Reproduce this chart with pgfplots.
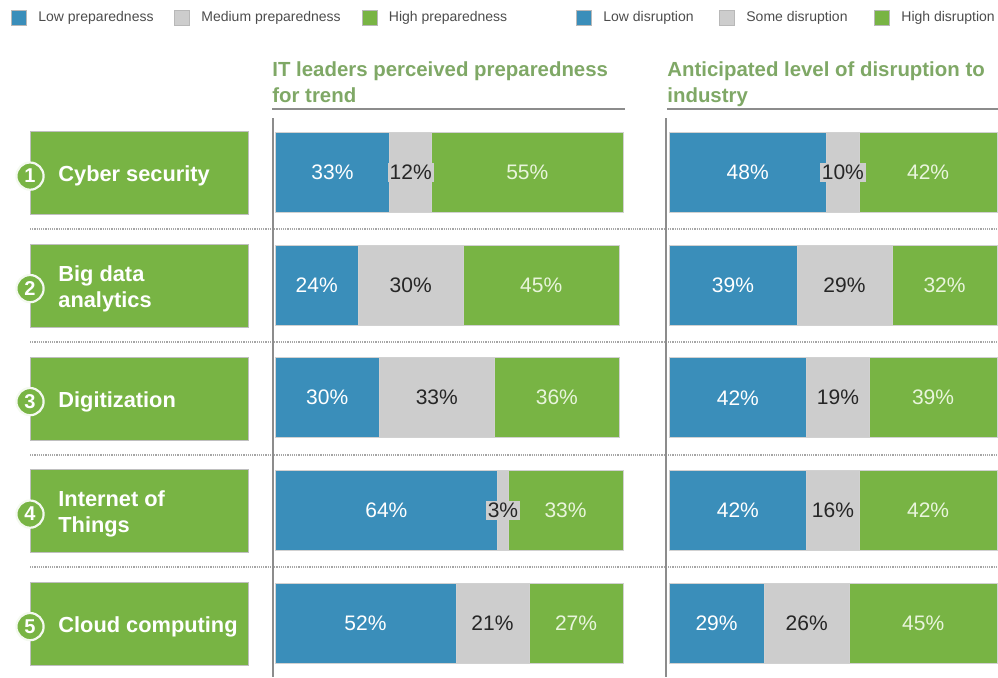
\documentclass[border=0pt]{standalone}
\usepackage{pgfplots}
\pgfplotsset{compat=1.18}
\usepackage{pgfplotstable}
\usepackage{fontspec}
\setmainfont{Liberation Sans}
\definecolor{cblue}{HTML}{3A8EBA}
\definecolor{cgrey}{HTML}{CDCDCD}
\definecolor{cgreen}{HTML}{78B444}
\definecolor{ctitle}{HTML}{7FA866}
\definecolor{cline}{HTML}{8C8C8C}
\definecolor{clab}{HTML}{E9F5DC}

\pgfplotstableread{
row low med high
1 33 12 55
2 24 30 45
3 30 33 36
4 64 3 33
5 52 21 27
}\prep
\pgfplotstableread{
row low med high
1 48 10 42
2 39 29 32
3 42 19 39
4 42 16 42
5 29 26 45
}\disr

\pgfplotsset{
  panel/.style={scale only axis, anchor=north west,
    xmin=0, xmax=100, ymin=0.5, ymax=5.5, y dir=reverse,
    height=281.55pt, axis lines=none, clip=false,
    /pgf/number format/assume math mode=true},
  barpanel/.style={panel, xbar stacked, bar width=40pt,
    every axis plot/.append style={draw=black!18, line width=0.4pt}},
  labpanel/.style={panel, point meta=explicit,
    nodes near coords={\pgfmathprintnumber{\pgfplotspointmeta}\%},
    nodes near coords align={center},
    every node near coord/.append style={anchor=center, font=\fontsize{10.5}{12}\selectfont},
    every axis plot/.append style={only marks, mark=*, mark size=0pt, mark options={draw=none, fill=none}}},
}

\begin{document}
\begin{tikzpicture}
\path[use as bounding box] (0,0) rectangle (499pt,-338.5pt);

% legend
\foreach \x/\c/\t in {19/cblue/Low preparedness, 182/cgrey/Medium preparedness, 369.5/cgreen/High preparedness,
                      584/cblue/Low disruption, 727/cgrey/Some disruption, 882/cgreen/High disruption}{
  \draw[fill=\c, draw=black!28, line width=0.4pt] (\x*0.5pt-3.7pt,-5.3pt) rectangle (\x*0.5pt+3.7pt,-12.7pt);
  \node[anchor=west, inner sep=0pt, font=\fontsize{7}{8.4}\selectfont, text=black!70] at (\x*0.5pt+9.5pt,-9pt) {\t};
}

% titles
\node[anchor=base west, inner sep=0pt, text=ctitle, font=\fontsize{10.2}{13}\selectfont\bfseries] at (136pt,-38pt) {IT leaders perceived preparedness};
\node[anchor=base west, inner sep=0pt, text=ctitle, font=\fontsize{10.2}{13}\selectfont\bfseries] at (136pt,-51pt) {for trend};
\node[anchor=base west, inner sep=0pt, text=ctitle, font=\fontsize{10.2}{13}\selectfont\bfseries] at (333.5pt,-38pt) {Anticipated level of disruption to};
\node[anchor=base west, inner sep=0pt, text=ctitle, font=\fontsize{10.2}{13}\selectfont\bfseries] at (333.5pt,-51pt) {industry};
\draw[cline, line width=1.3pt] (136pt,-54.5pt) -- (312.5pt,-54.5pt);
\draw[cline, line width=1.3pt] (333.5pt,-54.5pt) -- (499pt,-54.5pt);

% separators
\foreach \y in {229,342,455,567}{
  \draw[black!35, line width=1.1pt, dash pattern=on 0.6pt off 0.5pt] (15pt,-\y*0.5pt) -- (499pt,-\y*0.5pt);
}
% vertical axis lines
\draw[cline, line width=1pt] (136.5pt,-59pt) -- (136.5pt,-338.5pt);
\draw[cline, line width=1pt] (333pt,-59pt) -- (333pt,-338.5pt);

% row labels
\foreach \c/\n/\t in {172.5/1/Cyber security, 285/2/{Big data\\analytics}, 398/3/Digitization, 510.5/4/{Internet of\\Things}, 623/5/Cloud computing}{
  \draw[fill=cgreen, draw=black!25, line width=0.5pt] (15pt,-\c*0.5pt+20.5pt) rectangle (124pt,-\c*0.5pt-21pt);
  \node[anchor=west, inner sep=0pt, align=left, text=white, font=\fontsize{10.9}{13}\selectfont\bfseries] at (29pt,-\c*0.5pt-1.8pt) {\t};
  \draw[fill=cgreen, draw=white!92!cgreen, line width=1.1pt] (15pt,-\c*0.5pt-1.8pt) circle (6.8pt);
  \node[inner sep=0pt, text=white, font=\fontsize{10}{12}\selectfont\bfseries] at (15pt,-\c*0.5pt-1.8pt) {\n};
}

% panel 1 bars
\begin{axis}[barpanel, width=174pt, at={(137.5pt,-58.1pt)}]
\addplot[fill=cblue] table[x=low, y=row]{\prep};
\addplot[fill=cgrey] table[x=med, y=row]{\prep};
\addplot[fill=cgreen] table[x=high, y=row]{\prep};
\end{axis}
\begin{axis}[labpanel, width=174pt, at={(137.5pt,-58.1pt)}]
\addplot[nodes near coords style={text=white}] table[x expr=\thisrow{low}/2, y=row, meta=low]{\prep};
\addplot[nodes near coords style={text=black!85, fill=cgrey, inner sep=1pt}] table[x expr=\thisrow{low}+\thisrow{med}/2, y=row, meta=med]{\prep};
\addplot[nodes near coords style={text=clab}] table[x expr=\thisrow{low}+\thisrow{med}+\thisrow{high}/2, y=row, meta=high]{\prep};
\end{axis}

% panel 2 bars
\begin{axis}[barpanel, width=164pt, at={(334.5pt,-58.1pt)}]
\addplot[fill=cblue] table[x=low, y=row]{\disr};
\addplot[fill=cgrey] table[x=med, y=row]{\disr};
\addplot[fill=cgreen] table[x=high, y=row]{\disr};
\end{axis}
\begin{axis}[labpanel, width=164pt, at={(334.5pt,-58.1pt)}]
\addplot[nodes near coords style={text=white}] table[x expr=\thisrow{low}/2, y=row, meta=low]{\disr};
\addplot[nodes near coords style={text=black!85, fill=cgrey, inner sep=1pt}] table[x expr=\thisrow{low}+\thisrow{med}/2, y=row, meta=med]{\disr};
\addplot[nodes near coords style={text=clab}] table[x expr=\thisrow{low}+\thisrow{med}+\thisrow{high}/2, y=row, meta=high]{\disr};
\end{axis}
\end{tikzpicture}
\end{document}
